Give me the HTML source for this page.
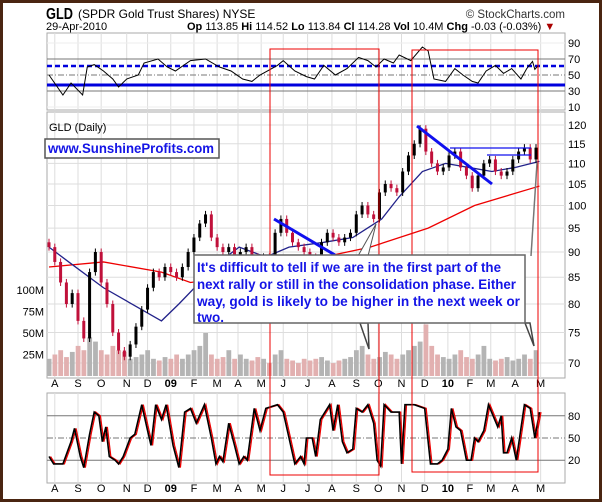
<!DOCTYPE html>
<html><head><meta charset="utf-8"><style>
html,body{margin:0;padding:0;background:#fff;}
svg{display:block;font-family:"Liberation Sans",Arial,sans-serif;}
</style></head><body>
<svg id="chart" width="602" height="502" viewBox="0 0 602 502" xmlns="http://www.w3.org/2000/svg">
<rect x="1.5" y="1.5" width="599" height="499" fill="#fff" stroke="#4a2511" stroke-width="3"/>
<text x="46" y="19" font-size="16" font-weight="bold" fill="#000" textLength="27" lengthAdjust="spacingAndGlyphs">GLD</text>
<text x="78" y="18" font-size="12" fill="#000">(SPDR Gold Trust Shares) NYSE</text>
<text x="565" y="18" font-size="11.5" fill="#333" text-anchor="end">© StockCharts.com</text>
<text x="46" y="30" font-size="11" fill="#000">29-Apr-2010</text>
<text x="187" y="30" font-size="11" fill="#000"><tspan font-weight="bold">Op</tspan> 113.85  <tspan font-weight="bold">Hi</tspan> 114.52  <tspan font-weight="bold">Lo</tspan> 113.84  <tspan font-weight="bold">Cl</tspan> 114.28  <tspan font-weight="bold">Vol</tspan> 10.4M  <tspan font-weight="bold">Chg</tspan> -0.03 (-0.03%) <tspan fill="#a00">▼</tspan></text>
<g id="rsi"></g>
<g id="main"></g>
<g id="stoch"></g>
<g id="annot"></g>
</svg>
<script>
// ---- data ----
const monthLabels = ["A","S","O","N","D","09","F","M","A","M","J","J","A","S","O","N","D","10","F","M","A","M"];
const monthDays = [5,25,45,67,85,105,125,145,163,183,202,223,244,265,284,304,324,344,363,381,402,424];
const priceTicks = [120,115,110,105,100,95,90,85,80,75,70];
const volTicks = [100,75,50,25];
const volTickLabels = ["100M","75M","50M","25M"];
const rsiTicks = [90,70,50,30,10];
const stochTicks = [80,50,20];
const closes = [91,88,84,80,82,77,74,86,90,84,80,75,72,71,73,76,79,83,86,85,87,86,85,87,90,93,96,98,93,91,90,91,89,90,91,89,88,89,88,94,97,94,92,91,90,89,88,92,94,93,92,93,94,98,100,98,97,103,105,104,103,108,112,115,119,113,110,108,109,112,113,109,107,104,107,110,111,108,107,108,111,113,114,111,114];
const volumes = [20,25,30,22,28,35,30,45,40,30,25,35,30,28,20,22,25,30,20,18,22,20,25,20,25,30,35,50,25,20,22,30,20,25,20,18,22,20,15,25,30,20,18,15,20,18,20,22,18,15,18,20,22,30,35,25,20,22,28,25,20,25,30,35,40,60,35,25,22,20,25,30,22,20,25,35,20,18,20,22,18,20,25,20,30];
const ma50Days = [0,17,47,97,112,147,164,187,207,237,262,287,302,322,342,362,382,402,423];
const ma50Vals = [91,88,83,77,80,88,91,89,91,92,93,97,102,108,110,109,108,109,110.5];
const ma200Days = [0,47,97,122,157,217,277,327,367,423];
const ma200Vals = [87,88,86,84,85,88,91,95,100,104.5];
const rsiDays = [0,12,19,29,33,39,47,55,60,67,77,82,94,102,109,122,135,147,157,167,175,182,197,202,212,222,229,237,247,257,267,275,282,289,297,302,312,322,327,332,342,350,357,365,370,377,385,392,399,407,412,417,419,422];
const rsiVals = [50,25,40,25,60,63,55,45,35,45,50,65,70,60,55,68,70,60,55,45,42,50,62,68,55,48,45,62,50,58,72,68,60,70,65,75,68,85,80,45,42,58,50,42,40,55,62,52,58,45,58,67,57,62];
const stDays = [0,4,12,19,22,27,30,35,39,43,46,49,52,57,60,64,70,74,80,85,88,92,97,101,107,112,117,122,127,134,140,144,147,150,155,160,164,168,171,177,182,187,197,202,207,212,217,220,222,227,230,234,242,245,249,253,257,262,265,270,275,280,283,286,289,295,302,304,307,315,324,329,335,339,344,347,351,355,360,364,367,370,375,379,387,390,392,395,399,403,410,415,419,423];
const stVals = [25,15,15,45,63,25,10,55,85,80,45,65,25,20,15,25,50,55,95,60,40,95,75,95,40,10,85,90,70,95,50,15,25,18,70,40,15,25,20,90,60,90,95,85,50,15,25,15,50,50,25,75,95,60,95,45,30,35,90,85,95,70,20,12,95,85,85,15,95,95,90,15,15,20,35,90,65,60,20,20,50,45,60,95,65,80,30,30,50,20,95,90,50,85];

// ---- scales ----
const X0=47, X1=565;
const xS = d => 49 + d*(487/420);
const pY = p => 125 + 441.5*Math.log(120/p);
const vY = v => 376 - v*0.86;
const rY = v => 75 - (v-50)*0.8;
const sY = v => 438 - (v-50)*0.74;
const NS="http://www.w3.org/2000/svg";
function mk(parent,tag,attrs){const e=document.createElementNS(NS,tag);for(const k in attrs)e.setAttribute(k,attrs[k]);parent.appendChild(e);return e;}
const rsiG=document.getElementById('rsi'), mainG=document.getElementById('main'), stG=document.getElementById('stoch'), an=document.getElementById('annot');

function panel(g,top,bot,name){
  const r=mk(g,'rect',{x:X0,y:top,width:X1-X0,height:bot-top,fill:'#fff',stroke:'#aaa'});
  
  
  monthDays.forEach(d=>{const l=mk(g,'line',{x1:xS(d),x2:xS(d),y1:top,y2:bot,stroke:'#ddd'});
    
    });
}
// RSI
panel(rsiG,33,110,'rsi');
rsiTicks.forEach(v=>{
  const t=mk(rsiG,'text',{x:568,y:rY(v)+4,'font-size':11,fill:'#000'});t.textContent=v;
  
  
  if(v===70||v===30){const l=mk(rsiG,'line',{x1:X0,x2:X1,y1:rY(v),y2:rY(v),stroke:'#777'});
    
    }
  else if(v===50){const l=mk(rsiG,'line',{x1:X0,x2:X1,y1:rY(v),y2:rY(v),stroke:'#777','stroke-dasharray':'6 2 1 2'});
    
    }
  else {const l=mk(rsiG,'line',{x1:X0,x2:X1,y1:rY(v),y2:rY(v),stroke:'#eee'});
    
    }
});
let e=mk(rsiG,'line',{x1:X0,x2:X1,y1:66,y2:66,stroke:'#0000dd','stroke-width':2.5,'stroke-dasharray':'5 3'});


e=mk(rsiG,'line',{x1:X0,x2:X1,y1:85,y2:85,stroke:'#0000dd','stroke-width':3});


e=mk(rsiG,'polyline',{points:rsiDays.map((d,i)=>xS(d)+','+rY(rsiVals[i])).join(' '),fill:'none',stroke:'#000','stroke-width':1});



// Main
panel(mainG,112,378,'price');
priceTicks.forEach(p=>{
  const l=mk(mainG,'line',{x1:X0,x2:X1,y1:pY(p),y2:pY(p),stroke:'#ddd'});
  
  
  const t=mk(mainG,'text',{x:568,y:pY(p)+4,'font-size':11,fill:'#000'});t.textContent=p;
  
  
});
volTicks.forEach((v,i)=>{
  const t=mk(mainG,'text',{x:44,y:vY(v)+4,'font-size':11,fill:'#000','text-anchor':'end'});t.textContent=volTickLabels[i];
  
  
});
e=mk(mainG,'text',{x:49,y:131,'font-size':11,fill:'#000'});e.textContent='GLD (Daily)';


// volume bars
volumes.forEach((v,i)=>{
  if(i>=closes.length)return;
  const down=i>0&&closes[i]<closes[i-1];
  const b=mk(mainG,'rect',{x:xS(i*5)-2.3,y:vY(v),width:4.8,height:376-vY(v),fill:down?'#e2b0b0':'#b4b4b4'});
  
  
});
// moving averages
e=mk(mainG,'polyline',{points:ma200Days.map((d,i)=>xS(d)+','+pY(ma200Vals[i])).join(' '),fill:'none',stroke:'#e00','stroke-width':1.3});


e=mk(mainG,'polyline',{points:ma50Days.map((d,i)=>xS(d)+','+pY(ma50Vals[i])).join(' '),fill:'none',stroke:'#22228a','stroke-width':1.3});


// candles
closes.forEach((c,i)=>{
  const o=i>0?closes[i-1]:c+1;
  const hi=Math.max(o,c)*1.008, lo=Math.min(o,c)*0.992;
  const col=c<o?'#c0103a':'#000';
  const x=xS(i*5);
  const w=mk(mainG,'line',{x1:x,x2:x,y1:pY(hi),y2:pY(lo),stroke:col,'stroke-width':1});
  
  
  const b=mk(mainG,'rect',{x:x-1.5,y:pY(Math.max(o,c)),width:3,height:Math.max(1,pY(Math.min(o,c))-pY(Math.max(o,c))),fill:col});
  
  
});
// month labels
[387,492].forEach(y=>monthLabels.forEach((m,i)=>{
  const t=mk(mainG,'text',{x:xS(monthDays[i]),y:y,'font-size':11,fill:'#000','text-anchor':'middle','font-weight':(m==='09'||m==='10')?'bold':'normal'});
  t.textContent=m;
  
  
}));

// Stochastic
panel(stG,393,483,'stochastic');
stochTicks.forEach(v=>{
  const l=mk(stG,'line',{x1:X0,x2:X1,y1:sY(v),y2:sY(v),stroke:'#777','stroke-dasharray':v===50?'6 2 1 2':'none'});
  
  
  const t=mk(stG,'text',{x:568,y:sY(v)+4,'font-size':11,fill:'#000'});t.textContent=v;
  
  
});
e=mk(stG,'polyline',{points:stDays.map((d,i)=>(xS(d)+1.5)+','+sY(stVals[i])).join(' '),fill:'none',stroke:'#e00','stroke-width':1.3});


e=mk(stG,'polyline',{points:stDays.map((d,i)=>xS(d)+','+sY(stVals[i])).join(' '),fill:'none',stroke:'#000','stroke-width':1.6});


</script>
<script>
(function(){
const an=document.getElementById('annot');
an.innerHTML=`
<rect x="270" y="49" width="109" height="426" fill="none" stroke="#e00" stroke-width="1"/>
<rect x="412" y="50" width="126" height="422" fill="none" stroke="#e00" stroke-width="1"/>
<line x1="417" y1="126" x2="492" y2="184" stroke="#1010ee" stroke-width="3"/>
<line x1="274" y1="219" x2="335" y2="255" stroke="#1010ee" stroke-width="3"/>
<line x1="450" y1="148" x2="531" y2="148" stroke="#1010ee" stroke-width="1.3"/>
<line x1="487" y1="155" x2="531" y2="155" stroke="#1010ee" stroke-width="1.3"/>
<polygon points="358,256 376,224 368,256" fill="#fff" stroke="#555"/>
<polygon points="360,323 369,349 368,323" fill="#fff" stroke="#444" stroke-width="1.5"/>
<polygon points="525,323 534,346 530,323" fill="#fff" stroke="#444" stroke-width="1.5"/>
<line x1="531" y1="256" x2="537" y2="163" stroke="#777" stroke-width="1.5"/>
<rect x="194" y="255" width="331" height="68" fill="#fff" stroke="#666" stroke-width="1.5"/>
<g font-weight="bold" font-size="13.5" fill="#1414e6">
<text x="197" y="272" textLength="304" lengthAdjust="spacingAndGlyphs">It's difficult to tell if we are in the first part of the</text>
<text x="197" y="289" textLength="319" lengthAdjust="spacingAndGlyphs">next rally or still in the consolidation phase. Either</text>
<text x="197" y="306" textLength="323" lengthAdjust="spacingAndGlyphs">way, gold is likely to be higher in the next week or</text>
<text x="197" y="322">two.</text>
</g>
<rect x="45" y="139" width="174" height="19" fill="#fff" stroke="#555" stroke-width="1.5"/>
<text x="48" y="153" font-size="13.5" font-weight="bold" fill="#1414e6" textLength="166" lengthAdjust="spacingAndGlyphs">www.SunshineProfits.com</text>`;
})();
</script>
</body></html>
